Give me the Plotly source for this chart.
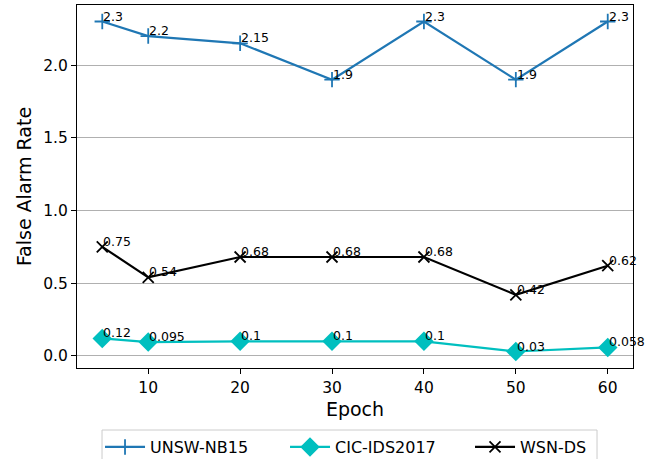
import plotly.graph_objects as go

epochs = [5, 10, 20, 30, 40, 50, 60]
unsw = [2.3, 2.2, 2.15, 1.9, 2.3, 1.9, 2.3]
cic = [0.12, 0.095, 0.1, 0.1, 0.1, 0.03, 0.058]
wsn = [0.75, 0.54, 0.68, 0.68, 0.68, 0.42, 0.62]
unsw_lbl = ["2.3", "2.2", "2.15", "1.9", "2.3", "1.9", "2.3"]
cic_lbl = ["0.12", "0.095", "0.1", "0.1", "0.1", "0.03", "0.058"]
wsn_lbl = ["0.75", "0.54", "0.68", "0.68", "0.68", "0.42", "0.62"]

FONT = "DejaVu Sans"
fig = go.Figure()
fig.add_trace(go.Scatter(x=epochs, y=unsw, name="UNSW-NB15", mode="lines+markers",
                         line=dict(color="#1f77b4", width=2.2),
                         marker=dict(symbol="cross-thin", size=11, color="#1f77b4",
                                     line=dict(color="#1f77b4", width=1.8))))
fig.add_trace(go.Scatter(x=epochs, y=cic, name="CIC-IDS2017", mode="lines+markers",
                         line=dict(color="#00bfbf", width=2.2),
                         marker=dict(symbol="diamond", size=15, color="#00bfbf")))
fig.add_trace(go.Scatter(x=epochs, y=wsn, name="WSN-DS", mode="lines+markers",
                         line=dict(color="black", width=2.2),
                         marker=dict(symbol="x-thin", size=11, color="black",
                                     line=dict(color="black", width=1.8))))

for ys, ls in [(unsw, unsw_lbl), (cic, cic_lbl), (wsn, wsn_lbl)]:
    for x, y, t in zip(epochs, ys, ls):
        fig.add_annotation(x=x, y=y, text=t, showarrow=False, xanchor="left",
                           yanchor="bottom", yshift=-4, xshift=-1,
                           font=dict(family=FONT, size=12.5, color="black"))

# legend frame (matplotlib-style box, cut by the bottom edge)
fig.add_shape(type="rect", xref="paper", yref="paper",
              x0=0.045, x1=0.9353, y0=-0.1708, y1=-0.30,
              line=dict(color="#cccccc", width=1), fillcolor="rgba(0,0,0,0)",
              layer="above")

fig.update_layout(
    width=660, height=459,
    margin=dict(l=77, r=27, t=5, b=91, autoexpand=False),
    plot_bgcolor="white", paper_bgcolor="white",
    font=dict(family=FONT, size=15.5, color="black"),
    showlegend=True,
    legend=dict(orientation="h", x=0.0414, xanchor="left", y=-0.171, yanchor="top",
                borderwidth=0, bgcolor="rgba(0,0,0,0)", font=dict(size=16),
                itemwidth=40, entrywidth=130),
    xaxis=dict(range=[2.25, 62.75], tickvals=[10, 20, 30, 40, 50, 60],
               showline=True, mirror=True, linecolor="black", linewidth=1.2,
               ticks="outside", ticklen=5, tickcolor="black", showgrid=False,
               zeroline=False, automargin=False, title=dict(text="Epoch", standoff=6)),
    yaxis=dict(range=[-0.0835, 2.4135], tickvals=[0, 0.5, 1.0, 1.5, 2.0],
               tickformat=".1f",
               showline=True, mirror=True, linecolor="black", linewidth=1.2,
               ticks="outside", ticklen=5, tickcolor="black",
               showgrid=True, gridcolor="#b0b0b0", gridwidth=1,
               zeroline=False, automargin=False,
               title=dict(text="False Alarm Rate", standoff=6)),
)
fig.write_html("out.html", config={"displayModeBar": False},
               post_script="document.body.style.margin='0px';")
